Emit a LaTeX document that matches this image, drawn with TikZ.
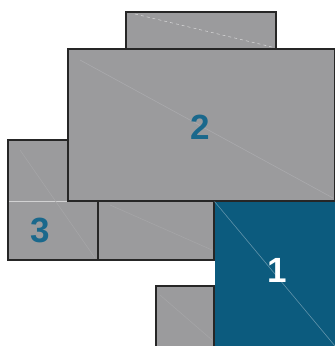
\documentclass[tikz,border=0pt]{standalone}
\usepackage{fontspec}
\setmainfont{Liberation Sans}
\definecolor{boxgray}{RGB}{155,155,157}
\definecolor{boxblue}{RGB}{12,91,126}
\definecolor{numblue}{RGB}{26,104,140}
\definecolor{faint}{RGB}{170,170,173}
\begin{document}
\begin{tikzpicture}[x=1pt,y=-1pt,
  block/.style={draw=black!85,line width=1.3pt,fill=boxgray},
  blueblock/.style={fill=boxblue},
  num/.style={font=\bfseries\fontsize{35}{35}\selectfont,inner sep=0pt},
  diag/.style={draw=faint,line width=0.6pt}]
\useasboundingbox (0,0) rectangle (335,346);
% rectangles (drawn back to front)
\path[block] (8,140) coordinate (b3a) rectangle (98,260) coordinate (b3b);
\path[block] (98,201) coordinate (bma) rectangle (214,260) coordinate (bmb);
\path[block] (126,12) coordinate (bta) rectangle (276,49) coordinate (btb);
\path[block] (156,286) coordinate (bba) rectangle (214,352) coordinate (bbb);
\path[block] (68,49) coordinate (b2a) rectangle (334.4,201) coordinate (b2b);
\path[blueblock] (214.6,201.6) coordinate (b1a) rectangle (335,346) coordinate (b1b);
% faint diagonal streaks
\draw[diag] (80,60) -- (333,198);
\draw[diag,draw=white!60!boxgray,dashed,line width=0.5pt] (135,14) -- (272,47);
\draw[diag,draw=white!55!boxgray] (9,201) -- (67,201);
\draw[diag,draw=white!10!boxgray] (20,150) -- (95,258);
\draw[diag,draw=white!10!boxgray] (110,205) -- (212,250);
\draw[diag,draw=white!10!boxgray] (160,295) -- (212,340);
\draw[diag,draw=boxblue!65!white,line width=0.6pt] (b1a) -- (b1b);
% labels
\node[num,text=numblue] (n2) at (200,127) {2};
\node[num,text=numblue] (n3) at (40,230) {3};
\node[num,text=white] (n1) at (277,270) {1};
\end{tikzpicture}
\end{document}
